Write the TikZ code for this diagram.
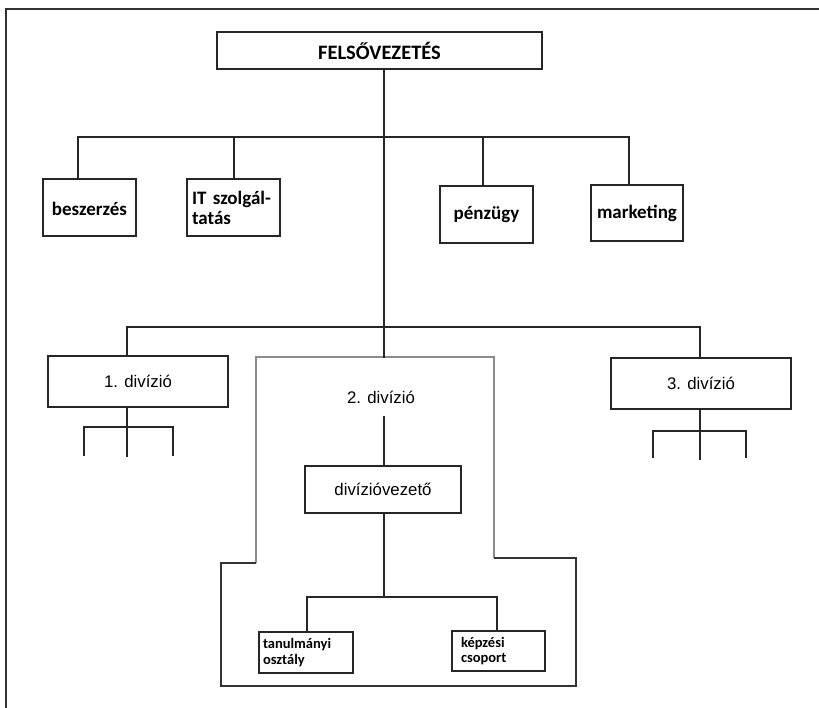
\documentclass[tikz,border=0pt]{standalone}
\usepackage{fontspec}
\setmainfont{Carlito}
\newfontfamily\arialf{Liberation Sans}
\begin{document}
\begin{tikzpicture}[x=1pt,y=-1pt,
  conn/.style={line width=2pt,line cap=rect,black!85},
  box/.style={draw=black!85,line width=2pt,fill=white,inner sep=0pt},
  unit/.style={box,font=\fontsize{19}{20}\selectfont\bfseries,align=center},
  divbox/.style={box,font=\arialf\fontsize{16.8}{19}\selectfont},
  smallbox/.style={box,font=\fontsize{14.5}{15.5}\selectfont\bfseries,align=left},
  frame/.style={line width=2pt,black!80},
  outline/.style={line width=1.4pt,black!45},
  outlinedark/.style={line width=1.8pt,black!80}]
\useasboundingbox (0,0) rectangle (819,708);
\fill[white] (0,0) rectangle (819,708);

% page frame (top and left edges)
\draw[frame] (819,9) -- (6,9) -- (6,708);

% outline of the second division
\draw[outline] (256,563) -- (256,357) -- (494,357) -- (494,558);
\draw[outlinedark] (256,563) -- (221,563) -- (221,686) -- (576,686) -- (576,558) -- (494,558);

% top management
\node[box,minimum width=325,minimum height=37,font=\fontsize{20.5}{24}\selectfont\bfseries] (top) at (379.5,50.5) {FELSŐVEZETÉS};

% staff units
\node[unit,minimum width=93,minimum height=57,text height=17pt,text depth=0pt] (besz) at (89.5,207.5) {beszerzés};
\node[unit,minimum width=93,minimum height=57,text width=83,inner xsep=5,align=left] (it) at (233.5,207.5) {IT szolgál-\\tatás};
\node[unit,minimum width=93,minimum height=57] (penz) at (486.5,214.5) {pénzügy};
\node[unit,minimum width=92,minimum height=56] (mkt) at (637,213) {marketing};

% divisions
\node[divbox,minimum width=180,minimum height=51] (div1) at (138,381.5) {1. divízió};
\node[divbox,minimum width=180,minimum height=51] (div3) at (701,383.5) {3. divízió};
\node[font=\arialf\fontsize{16.8}{19}\selectfont,inner sep=0pt] (div2) at (381,397) {2. divízió};
\node[divbox,minimum width=156,minimum height=47] (dv) at (383,489.5) {divízióvezető};
\node[smallbox,minimum height=41,text width=86,inner xsep=4] (tan) at (306,652.5) {tanulmányi\\osztály};
\node[smallbox,minimum height=40,text width=75,inner xsep=9] (kep) at (498.5,651) {képzési\\csoport};

% junctions
\coordinate (j1) at (384,137);
\coordinate (j2) at (384,327);
\coordinate (g2) at (384,357);
\coordinate (d2) at (384,417);
\coordinate (j3) at (384,597);

% top management to staff units and divisions
\draw[conn] (top.south -| g2) -- (g2);
\draw[conn] ([xshift=-11.5pt]besz.north) |- (j1) -| ([xshift=-8pt]mkt.north);
\draw[conn] ([xshift=0.5pt]it.north) -- ([xshift=0.5pt]it.north |- j1);
\draw[conn] ([xshift=-3.5pt]penz.north) -- ([xshift=-3.5pt]penz.north |- j1);
\draw[conn] ([xshift=-11pt]div1.north) |- (j2) -| ([xshift=-1pt]div3.north);

% inside the second division
\draw[conn] (d2) -- ([xshift=1pt]dv.north);
\draw[conn] ([xshift=1pt]dv.south) -- (j3);
\draw[conn] ([xshift=1pt]tan.north) |- (j3) -| ([xshift=-1.5pt]kep.north);

% unit stubs under the first and third divisions
\coordinate (a0) at (127,456);
\coordinate (a1) at (84,455);
\coordinate (a2) at (173,455);
\draw[conn] ([xshift=-11pt]div1.south) -- (a0);
\draw[conn] (a1) |- (127,427) -| (a2);
\coordinate (b0) at (700,459);
\coordinate (b1) at (653,457);
\coordinate (b2) at (746,457);
\draw[conn] ([xshift=-1pt]div3.south) -- (b0);
\draw[conn] (b1) |- (700,431) -| (b2);
\end{tikzpicture}
\end{document}
